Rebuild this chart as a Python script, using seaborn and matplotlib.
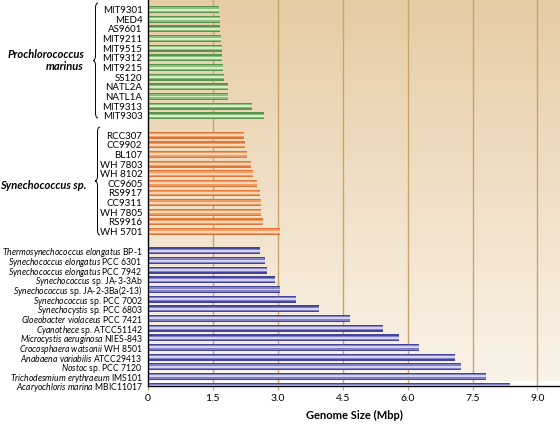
import numpy as np
import pandas as pd
import seaborn as sns
import matplotlib.pyplot as plt
from matplotlib.path import Path
from matplotlib.patches import PathPatch

# Genome sizes (Mbp)
pro_strains = ["MIT9301", "MED4", "AS9601", "MIT9211", "MIT9515", "MIT9312",
               "MIT9215", "SS120", "NATL2A", "NATL1A", "MIT9313", "MIT9303"]
pro_sizes = [1.64, 1.66, 1.67, 1.69, 1.70, 1.71, 1.74, 1.75, 1.84, 1.86, 2.41, 2.68]

syn_strains = ["RCC307", "CC9902", "BL107", "WH 7803", "WH 8102", "CC9605",
               "RS9917", "CC9311", "WH 7805", "RS9916", "WH 5701"]
syn_sizes = [2.22, 2.23, 2.28, 2.37, 2.43, 2.51, 2.58, 2.61, 2.62, 2.66, 3.04]

other_genus = ["Thermosynechococcus elongatus", "Synechococcus elongatus",
               "Synechococcus elongatus", "Synechococcus", "Synechococcus",
               "Synechococcus", "Synechocystis", "Gloeobacter violaceus",
               "Cyanothece", "Microcystis aeruginosa", "Crocosphaera watsonii",
               "Anabaena variabilis", "Nostoc", "Trichodesmium erythraeum",
               "Acaryochloris marina"]
other_strain = ["BP-1", "PCC 6301", "PCC 7942", "sp. JA-3-3Ab", "sp. JA-2-3Ba(2-13)",
                "sp. PCC 7002", "sp. PCC 6803", "PCC 7421", "sp. ATCC51142",
                "NIES-843", "WH 8501", "ATCC29413", "sp. PCC 7120", "IMS101",
                "MBIC11017"]
other_sizes = [2.59, 2.70, 2.74, 2.93, 3.04, 3.41, 3.95, 4.66, 5.43, 5.80,
               6.26, 7.09, 7.23, 7.81, 8.37]

x_ticks = [0, 1.5, 3.0, 4.5, 6.0, 7.5, 9.0]
x_tick_labels = ["0", "1.5", "3.0", "4.5", "6.0", "7.5", "9.0"]

plt.rcParams['font.family'] = ['Lato', 'DejaVu Sans']
plt.rcParams['mathtext.fontset'] = 'custom'
plt.rcParams['mathtext.it'] = 'Lato:italic'
plt.rcParams['mathtext.rm'] = 'Lato'

other_labels = [g + " " + s for g, s in zip(other_genus, other_strain)]
df = pd.DataFrame({
    "label": pro_strains + syn_strains + other_labels,
    "size": pro_sizes + syn_sizes + other_sizes,
    "group": ["pro"] * len(pro_strains) + ["syn"] * len(syn_strains) + ["other"] * len(other_labels),
})
order = pro_strains + ["_gap1"] + syn_strains + ["_gap2"] + other_labels

fig = plt.figure(figsize=(5.6, 4.24), dpi=100)
ax = fig.add_axes([148 / 560, 1 - 386 / 424, 1 - 148 / 560, 386 / 424])

# background gradient
grad = np.linspace(0, 1, 256).reshape(-1, 1)
top = np.array([230, 204, 163]) / 255
bot = np.array([250, 243, 233]) / 255
img = top + (bot - top) * grad[..., None]
ax.imshow(img.reshape(256, 1, 3), extent=[0, 9.52, 38.5, -1.0], aspect='auto', zorder=0)

for xv in x_ticks[1:]:
    ax.axvline(xv, color=(0.80, 0.64, 0.40), lw=1.0, zorder=1)

dark = {"pro": "#5a9550", "syn": "#e07536", "other": "#45459a"}
mid = {"pro": "#8cbf7a", "syn": "#f09c60", "other": "#8080c8"}
light = {"pro": "#d6edc8", "syn": "#fcd6b8", "other": "#d4d4f2"}

for pal, w in [(dark, 0.72), (mid, 0.46), (light, 0.2)]:
    sns.barplot(data=df, x="size", y="label", hue="group", order=order,
                palette=pal, width=w, dodge=False, legend=False,
                linewidth=0, saturation=1, ax=ax, zorder=2)

ax.set_xlim(0, 9.52)
ax.set_ylim(38.5, -1.0)

# tick labels with italic genus names
ytl = []
for lab in order:
    if lab.startswith("_gap"):
        ytl.append("")
    elif lab in other_labels:
        i = other_labels.index(lab)
        g = other_genus[i].replace(" ", r"\ ")
        ytl.append(r"$\mathit{" + g + "}$ " + other_strain[i])
    else:
        ytl.append(lab)
ax.set_yticks(range(len(order)))
ax.set_yticklabels(ytl, fontsize=7)
n_top = len(order) - len(other_labels)
for k, t in enumerate(ax.get_yticklabels()):
    if k >= n_top:
        t.set_fontsize(6.2)
ax.tick_params(axis='y', length=0, pad=4)
ax.set_xticks(x_ticks)
ax.set_xticklabels(x_tick_labels, fontsize=7.5)
ax.tick_params(axis='x', length=3, color=(0.80, 0.64, 0.40), pad=3)
ax.set_xlabel("Genome Size (Mbp)", fontsize=8, fontweight='bold', labelpad=5)
ax.set_ylabel("")

for s in ["top", "right"]:
    ax.spines[s].set_visible(False)
for s in ["left", "bottom"]:
    ax.spines[s].set_color("black")
    ax.spines[s].set_linewidth(1.0)


def brace(x, y_top, y_bot, w=5):
    # curly brace in figure pixels (origin top-left)
    H = 424.0
    ym = (y_top + y_bot) / 2
    r = 5
    xm = x + w / 2
    pts = [(x + w, y_top), (xm, y_top), (xm, y_top + r),
           (xm, ym - r), (xm, ym), (x, ym),
           (xm, ym), (xm, ym + r),
           (xm, y_bot - r), (xm, y_bot), (x + w, y_bot)]
    codes = [Path.MOVETO, Path.CURVE3, Path.CURVE3,
             Path.LINETO, Path.CURVE3, Path.CURVE3,
             Path.CURVE3, Path.CURVE3,
             Path.LINETO, Path.CURVE3, Path.CURVE3]
    verts = [(px / 560.0, 1 - py / H) for px, py in pts]
    fig.add_artist(PathPatch(Path(verts, codes), fill=False, lw=0.7,
                             color="black", transform=fig.transFigure))


brace(93, 3, 118)
brace(95, 127, 235)

fig.text(84 / 560, 1 - 55 / 424, "Prochlorococcus", ha='right', va='center',
         fontsize=8, fontweight='bold', fontstyle='italic')
fig.text(84 / 560, 1 - 67 / 424, "marinus", ha='right', va='center',
         fontsize=8, fontweight='bold', fontstyle='italic')
fig.text(86 / 560, 1 - 185 / 424, "Synechococcus sp.", ha='right', va='center',
         fontsize=8, fontweight='bold', fontstyle='italic')

fig.savefig("out.png", dpi=100)
